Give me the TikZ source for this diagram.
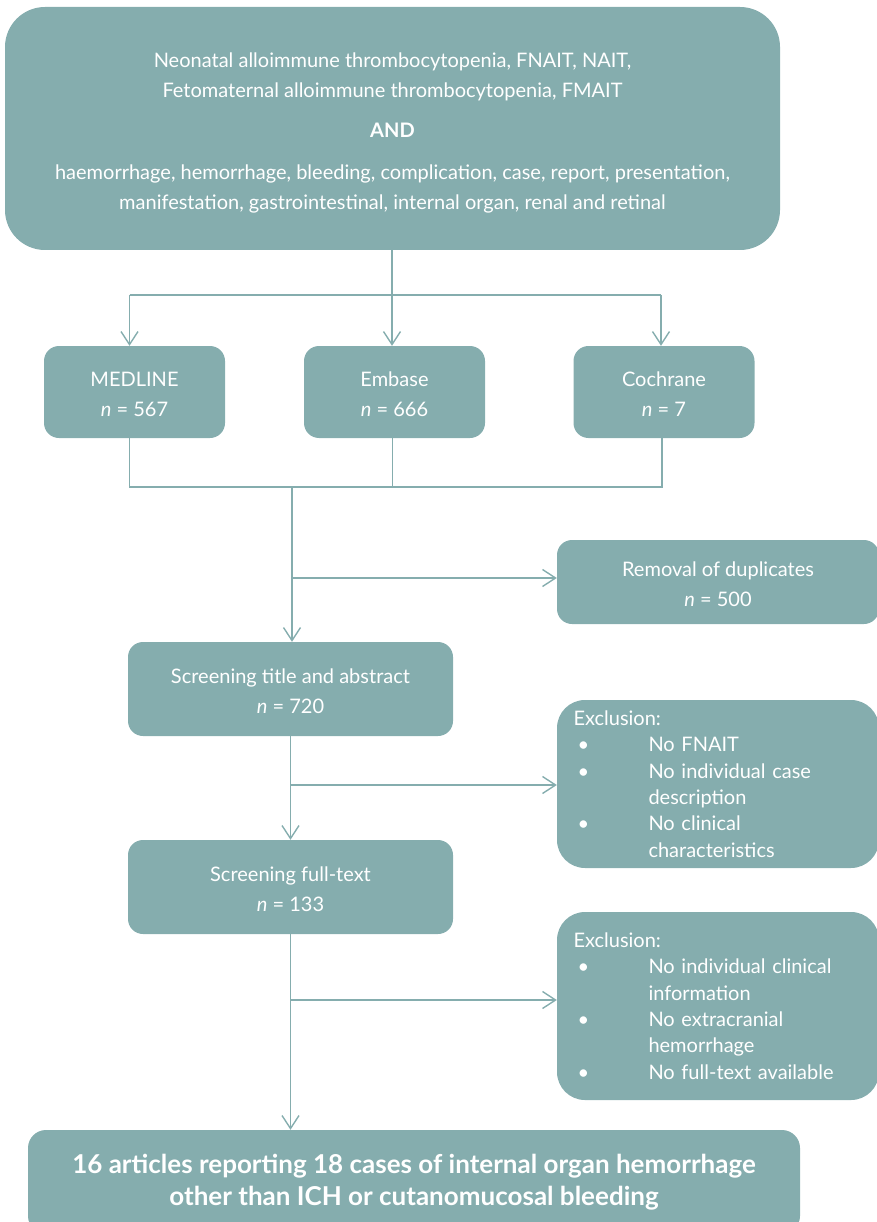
\documentclass[tikz,border=0pt]{standalone}
\usepackage{fontspec}
\setmainfont{Lato}
\usetikzlibrary{arrows.meta}
\definecolor{tealbox}{RGB}{133,173,174}
\begin{document}
\begin{tikzpicture}[x=1pt,y=-1pt,
  box/.style={fill=tealbox, text=white, align=center, inner sep=0pt},
  conn/.style={draw=tealbox, line width=1.4pt},
  arr/.style={conn, -{Straight Barb[length=13pt,width=17pt,line width=1.4pt]}},
  body/.style={font=\fontsize{20}{30}\selectfont},
  exbody/.style={font=\fontsize{20}{26.3}\selectfont, align=left, text width=289pt}
]
\useasboundingbox (0,0) rectangle (876,1222);
% top box
\node[box, body, rounded corners=40pt, minimum width=775pt, minimum height=243pt] (top) at (392.5,128.5)
 {\rule{0pt}{23pt}Neonatal alloimmune thrombocytopenia, FNAIT, NAIT,\\
  Fetomaternal alloimmune thrombocytopenia, FMAIT\\[10pt]
  \textbf{AND}\\[12pt]
  haemorrhage, hemorrhage, bleeding, complication, case, report, presentation,\\
  manifestation, gastrointestinal, internal organ, renal and retinal};
% databases
\node[box, body, rounded corners=15pt, minimum width=181pt, minimum height=92pt] (med) at (134.5,392) {\rule{0pt}{19pt}MEDLINE\\\textit{n} = 567};
\node[box, body, rounded corners=15pt, minimum width=181pt, minimum height=92pt] (emb) at (394.5,392) {\rule{0pt}{19pt}Embase\\\textit{n} = 666};
\node[box, body, rounded corners=15pt, minimum width=181pt, minimum height=92pt] (coc) at (664,392) {\rule{0pt}{19pt}Cochrane\\\textit{n} = 7};
% removal
\node[box, body, rounded corners=15pt, minimum width=322pt, minimum height=84pt] (rem) at (718,582) {\rule{0pt}{19pt}Removal of duplicates\\\textit{n} = 500};
% screening
\node[box, body, rounded corners=15pt, minimum width=325pt, minimum height=94pt] (s1) at (290.5,689) {\rule{0pt}{19pt}Screening title and abstract\\\textit{n} = 720};
\node[box, body, rounded corners=15pt, minimum width=325pt, minimum height=94pt] (s2) at (290.5,887) {\rule{0pt}{19pt}Screening full-text\\\textit{n} = 133};
% exclusions
\node[box, exbody, rounded corners=28pt, minimum width=322pt, minimum height=168pt] (ex1) at (718,784)
 {Exclusion:\\
  \hspace*{4pt}\makebox[71pt][l]{\textbullet}No FNAIT\\
  \hspace*{4pt}\makebox[71pt][l]{\textbullet}No individual case\\
  \hspace*{75pt}description\\
  \hspace*{4pt}\makebox[71pt][l]{\textbullet}No clinical\\
  \hspace*{75pt}characteristics};
\node[box, exbody, rounded corners=28pt, minimum width=322pt, minimum height=188pt] (ex2) at (718,1006)
 {Exclusion:\\
  \hspace*{4pt}\makebox[71pt][l]{\textbullet}No individual clinical\\
  \hspace*{75pt}information\\
  \hspace*{4pt}\makebox[71pt][l]{\textbullet}No extracranial\\
  \hspace*{75pt}hemorrhage\\
  \hspace*{4pt}\makebox[71pt][l]{\textbullet}No full-text available};
% final
\node[box, font=\bfseries\fontsize{26}{32}\selectfont, rounded corners=18pt, minimum width=772pt, minimum height=104pt] (fin) at (414,1182)
 {16 articles reporting 18 cases of internal organ hemorrhage\\other than ICH or cutanomucosal bleeding};
% coordinates
\coordinate (split) at (392,295);
\coordinate (merge) at (292,487);
% top to databases
\draw[conn] (split |- top.south) -- (split);
\draw[conn] ([xshift=-5pt]med.north |- split) -- ([xshift=-3pt]coc.north |- split);
\draw[arr] ([xshift=-5pt]med.north |- split) -- ([xshift=-5pt]med.north);
\draw[arr] (split) -- (split |- emb.north);
\draw[arr] ([xshift=-3pt]coc.north |- split) -- ([xshift=-3pt]coc.north);
% databases to merge
\draw[conn] ([xshift=-5pt]med.south) -- ([xshift=-5pt]med.south |- merge) -- ([xshift=-2pt]coc.south |- merge) -- ([xshift=-2pt]coc.south);
\draw[conn] ([xshift=-2pt]emb.south) -- ([xshift=-2pt]emb.south |- merge);
\draw[arr] (merge) -- (merge |- s1.north);
\draw[arr] (merge |- 0,578) -- (rem.west |- 0,578);
% screening chain
\draw[arr] (s1.south) -- (s2.north);
\draw[arr] (s1.south |- 0,785) -- (ex1.west |- 0,785);
\draw[arr] (s2.south) -- (s2.south |- fin.north);
\draw[arr] (s2.south |- 0,1000) -- (ex2.west |- 0,1000);
\end{tikzpicture}
\end{document}
